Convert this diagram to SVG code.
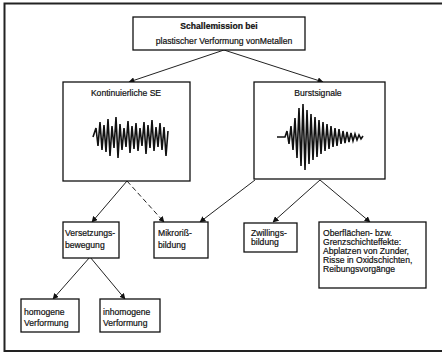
<svg xmlns="http://www.w3.org/2000/svg" width="442" height="353" viewBox="0 0 442 353">
<defs>
<marker id="ah" viewBox="0 0 10 10" refX="9" refY="5" markerWidth="6" markerHeight="6" markerUnits="userSpaceOnUse" orient="auto">
<path d="M0,0 L10,5 L0,10 Z" fill="#111"/>
</marker>
<style>
.box{fill:#fff;stroke:#111;stroke-width:1.3}
.t{font-family:"Liberation Sans",Arial,sans-serif;font-size:8.6px;fill:#111;stroke:#111;stroke-width:0.2}
.c{stroke:#222;stroke-width:1;fill:none;marker-end:url(#ah)}
.d{stroke-dasharray:5,3}
.w{fill:none;stroke:#111;stroke-width:1.6;stroke-linejoin:miter}
</style>
</defs>
<rect width="442" height="353" fill="#fff"/>
<path d="M442,3.5 H4.5 V351 H442" fill="none" stroke="#222" stroke-width="2"/>

<g id="connectors">
<line class="c" x1="224" y1="50" x2="129" y2="82"/>
<line class="c" x1="224" y1="50" x2="323" y2="82"/>
<line class="c" x1="127" y1="181" x2="92" y2="222"/>
<line class="c d" x1="127" y1="181" x2="164" y2="222"/>
<line class="c" x1="255" y1="180" x2="200" y2="222"/>
<line class="c" x1="320" y1="180" x2="273" y2="222"/>
<line class="c" x1="320" y1="180" x2="370" y2="222"/>
<line class="c" x1="90" y1="257" x2="53" y2="299"/>
<line class="c" x1="90" y1="257" x2="125" y2="299"/>
</g>

<g id="n-top">
<rect class="box" x="133" y="17" width="172" height="33"/>
<text class="t" x="219" y="29" text-anchor="middle" font-size="8.6" font-weight="bold">Schallemission bei</text>
<text class="t" x="224" y="44" text-anchor="middle" font-size="8.6">plastischer Verformung vonMetallen</text>
</g>

<g id="n-kont">
<rect class="box" x="63" y="82" width="127" height="99"/>
<text class="t" x="126" y="96" text-anchor="middle" font-size="9">Kontinuierliche SE</text>
<polyline class="w" points="93,137 96,128 98,146 100,122 102,150 104,125 106,152 108,119 110,156 112,126 114,148 116,117 118,158 120,124 122,150 124,128 126,147 128,121 130,153 132,126 134,149 136,123 138,151 140,128 142,146 144,122 146,154 148,125 150,148 152,120 154,151 156,127 158,147 160,123 162,150 164,127 166,156 168,131"/>
</g>

<g id="n-burst">
<rect class="box" x="254" y="82" width="131" height="97"/>
<text class="t" x="318" y="96" text-anchor="middle" font-size="9">Burstsignale</text>
<polyline class="w" points="277,137 285,137 287,131 289,144 291,126 293,150 295,118 297,158 299,108 301,166 303,104 305,170 307,110 309,164 311,114 313,160 315,117 317,157 319,120 321,154 323,122 325,151 327,124 329,149 331,126 333,147 335,128 337,146 339,129 341,144 343,131 345,143 347,132 349,142 351,133 353,141 355,134 357,140 359,135 361,139 363,136"/>
</g>

<g id="n-versetzung">
<rect class="box" x="63" y="222" width="56" height="36"/>
<text class="t" x="65" y="236">Versetzungs-</text>
<text class="t" x="65" y="248">bewegung</text>
</g>

<g id="n-mikro">
<rect class="box" x="154" y="222" width="54" height="36"/>
<text class="t" x="158" y="236">Mikroriß-</text>
<text class="t" x="158" y="248">bildung</text>
</g>

<g id="n-zwilling">
<rect class="box" x="244" y="223" width="53" height="29"/>
<text class="t" x="251" y="236">Zwillings-</text>
<text class="t" x="251" y="245">bildung</text>
</g>

<g id="n-ober">
<rect class="box" x="319" y="222" width="107" height="66"/>
<text class="t" x="323" y="236" font-size="8.3">Oberflächen- bzw.</text>
<text class="t" x="323" y="245" font-size="8.3">Grenzschichteffekte:</text>
<text class="t" x="323" y="254" font-size="8.3">Abplatzen von Zunder,</text>
<text class="t" x="323" y="263" font-size="8.3">Risse in Oxidschichten,</text>
<text class="t" x="323" y="272" font-size="8.3">Reibungsvorgänge</text>
</g>

<g id="n-homo">
<rect class="box" x="21" y="299" width="58" height="33"/>
<text class="t" x="24" y="315">homogene</text>
<text class="t" x="24" y="326">Verformung</text>
</g>

<g id="n-inhomo">
<rect class="box" x="100" y="299" width="60" height="33"/>
<text class="t" x="103" y="315">inhomogene</text>
<text class="t" x="103" y="326">Verformung</text>
</g>
</svg>
